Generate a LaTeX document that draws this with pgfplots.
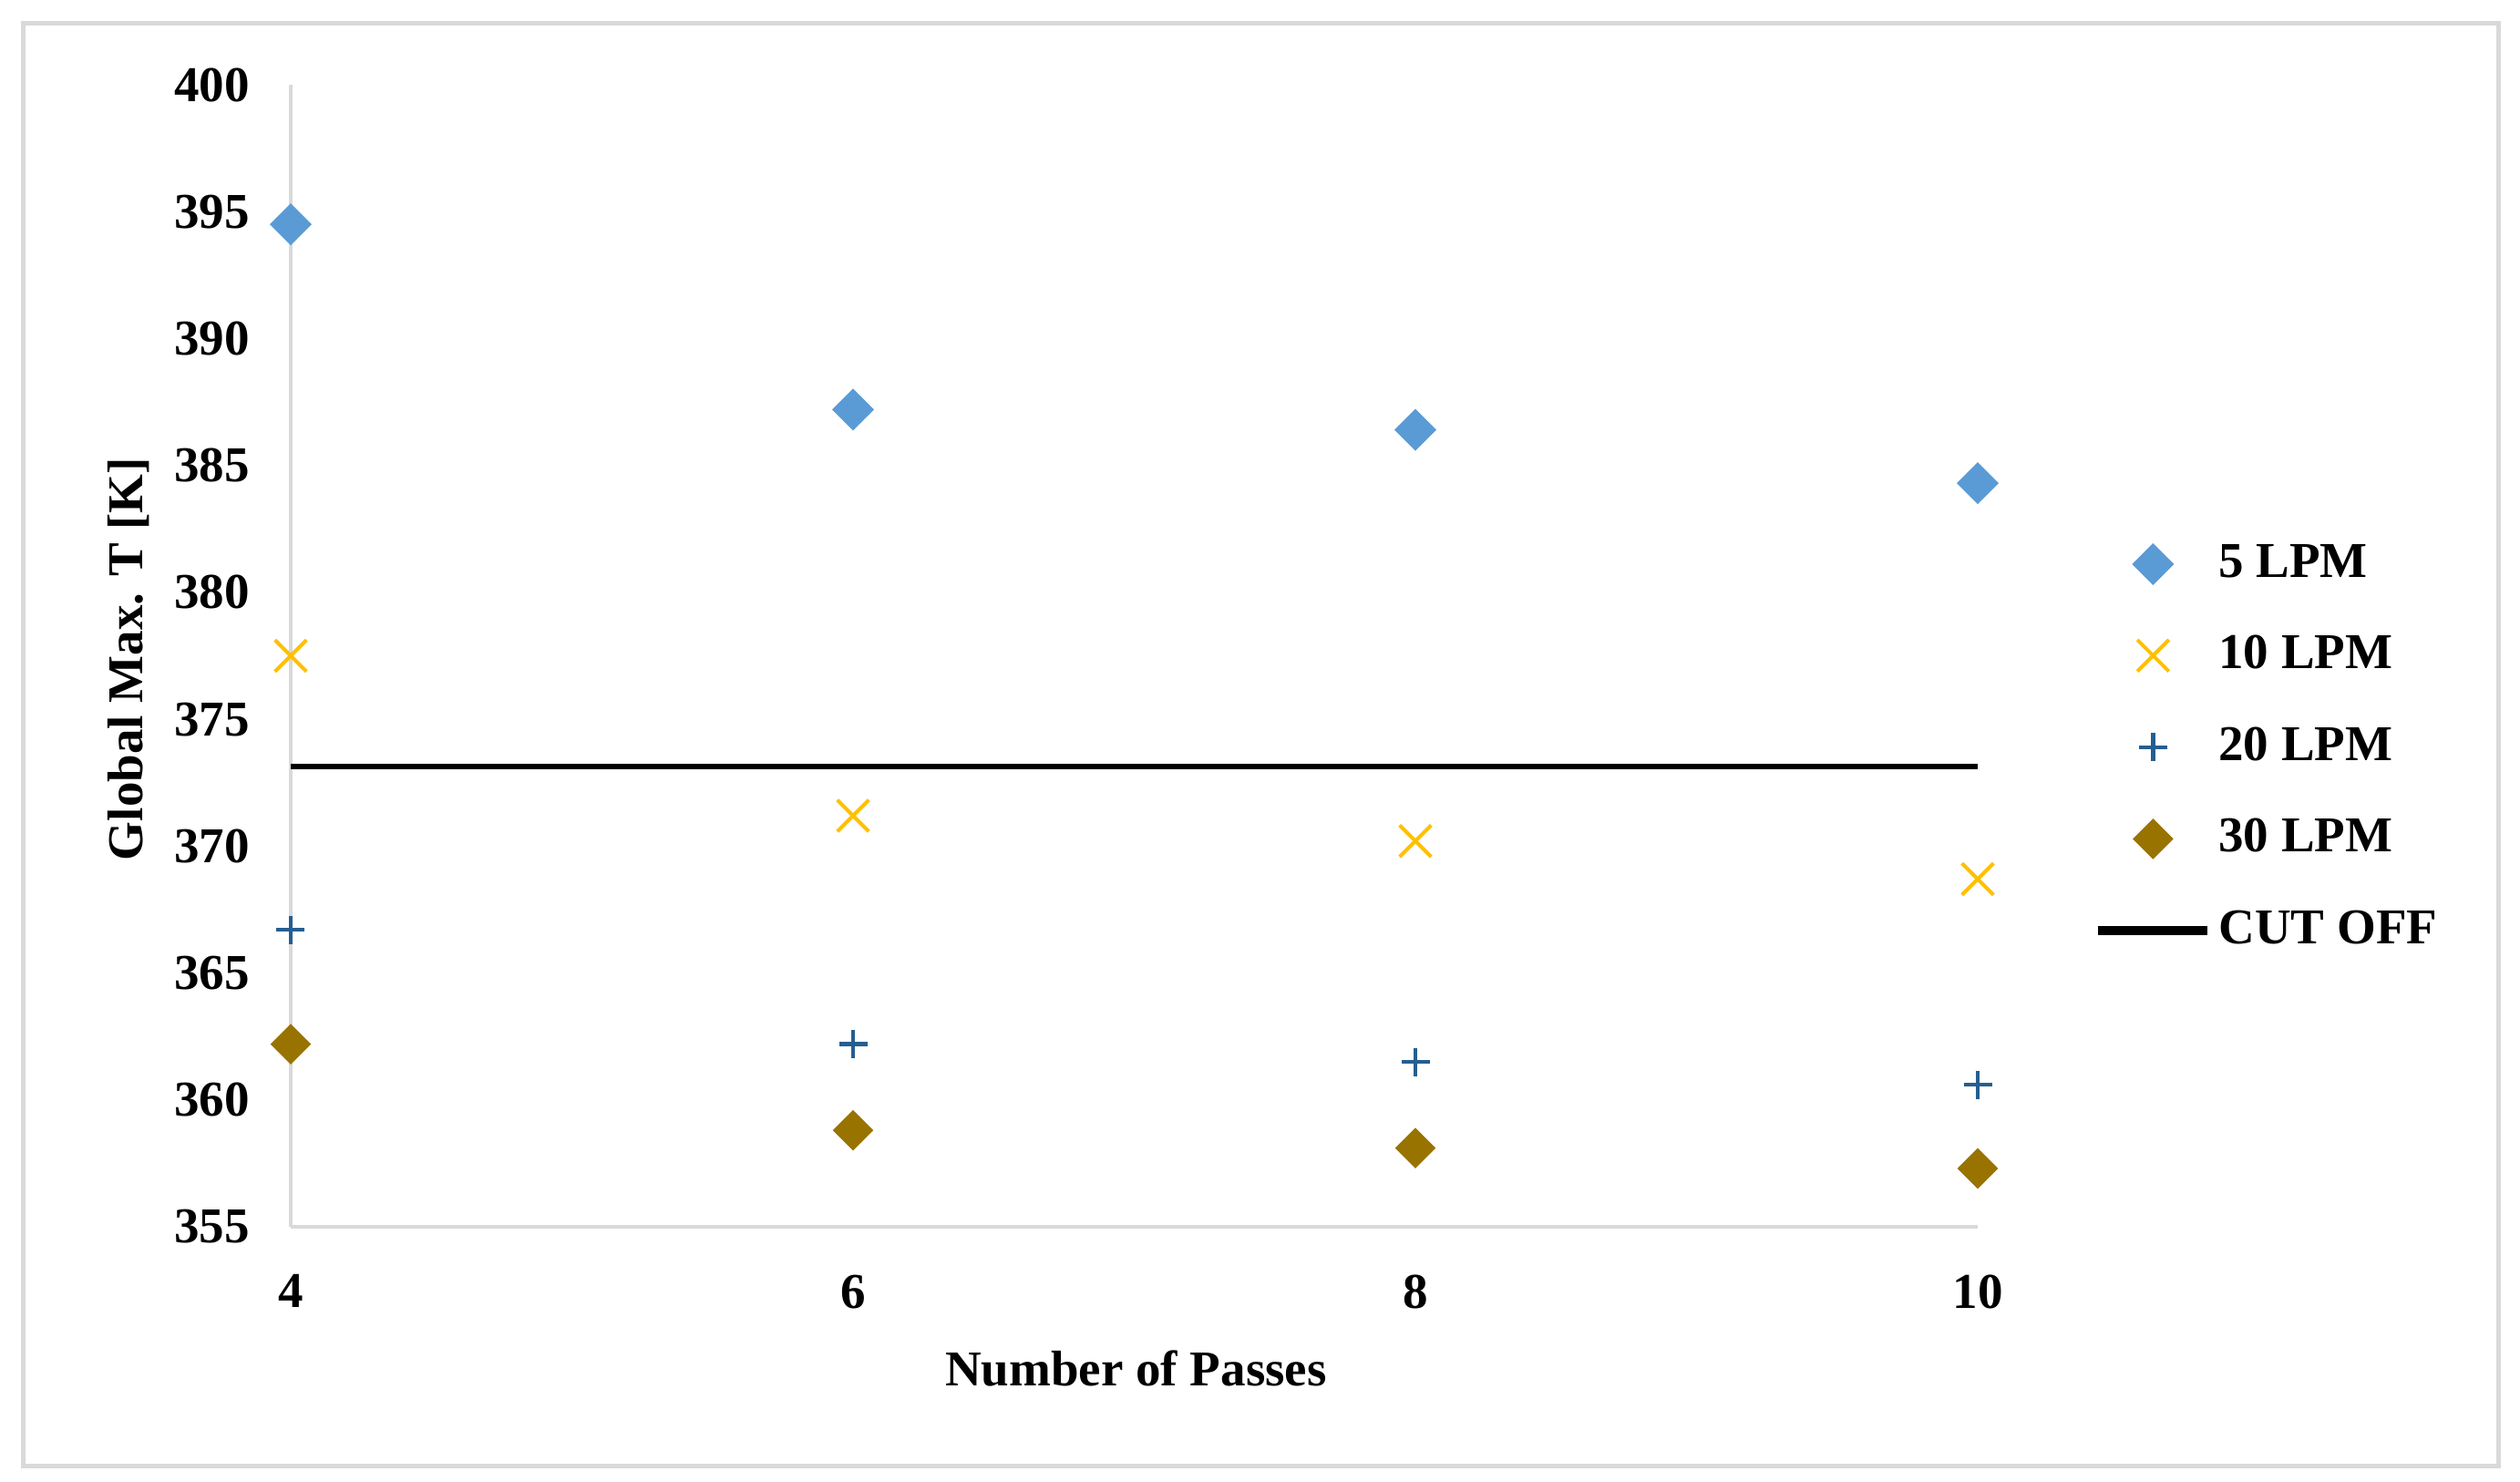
\documentclass[border=0pt]{standalone}
\usepackage{fontspec}
\setmainfont{Liberation Serif}
\usepackage{pgfplots}
\pgfplotsset{compat=1.18}
\definecolor{c5}{HTML}{5B9BD5}
\definecolor{c10}{HTML}{FFC000}
\definecolor{c20}{HTML}{255E91}
\definecolor{c30}{HTML}{997300}
\definecolor{gridgray}{HTML}{D9D9D9}
\pgfplotsset{lgmark/.style={legend image code/.code={\draw[mark repeat=2,mark phase=2,##1] plot coordinates {(0pt,0pt) (12pt,0pt) (24pt,0pt)};}}}
\begin{document}
\begin{tikzpicture}
\path[use as bounding box] (-63.8pt,-55.8pt) rectangle (489.2pt,269.2pt);
\draw[gridgray, line width=1pt] (-58.6pt,-52.4pt) rectangle (484.4pt,264.2pt);
\begin{axis}[
 scale only axis, width=370.2pt, height=250.6pt,
 xmin=4, xmax=10, ymin=355, ymax=400,
 xtick={4,6,8,10}, ytick distance=5,
 axis x line*=bottom, axis y line*=left,
 axis line style={gridgray, line width=0.9pt, -},
 major tick length=0pt,
 clip=false,
 font=\fontsize{11}{13}\selectfont\bfseries,
 /pgf/number format/assume math mode=true,
 tick label style={font=\fontsize{11}{13}\selectfont\bfseries},
 yticklabel style={xshift=-5.5pt},
 xticklabel style={yshift=-7pt},
 xlabel={Number of Passes},
 xlabel style={at={([yshift=-31pt]axis description cs:0.501,0)}, anchor=center},
 ylabel={Global Max. T [K]},
 ylabel style={at={([xshift=-35.6pt]axis description cs:0,0.497)}, anchor=center},
 legend style={at={(axis description cs:1.0683,0.604)}, anchor=north west, draw=none, fill=none, inner sep=0pt, row sep=8.5pt, nodes={inner sep=1.4pt}, /tikz/every even column/.append style={column sep=0pt}, font=\fontsize{11}{13}\selectfont\bfseries},
 legend cell align=left,
]
\addplot[only marks, lgmark, mark=square*, mark size=3.05pt, mark options={rotate=45, fill=c5, draw=c5}] coordinates {(4,394.5) (6,387.2) (8,386.4) (10,384.3)};
\addlegendentry{5 LPM}
\addplot[only marks, lgmark, mark=x, mark size=4.9pt, mark options={draw=c10, line width=0.8pt}] coordinates {(4,377.5) (6,371.2) (8,370.2) (10,368.7)};
\addlegendentry{10 LPM}
\addplot[only marks, lgmark, mark=+, mark size=3.1pt, mark options={draw=c20, line width=0.9pt}] coordinates {(4,366.7) (6,362.2) (8,361.5) (10,360.6)};
\addlegendentry{20 LPM}
\addplot[only marks, lgmark, mark=square*, mark size=2.95pt, mark options={rotate=45, fill=c30, draw=c30}] coordinates {(4,362.2) (6,358.8) (8,358.1) (10,357.3)};
\addlegendentry{30 LPM}
\addplot[black, line width=1.2pt, no marks, legend image code/.code={\draw[black, line width=2pt] (0pt,0pt) -- (24pt,0pt);}] coordinates {(4,373.15) (10,373.15)};
\addlegendentry{CUT OFF}
\end{axis}
\end{tikzpicture}
\end{document}
